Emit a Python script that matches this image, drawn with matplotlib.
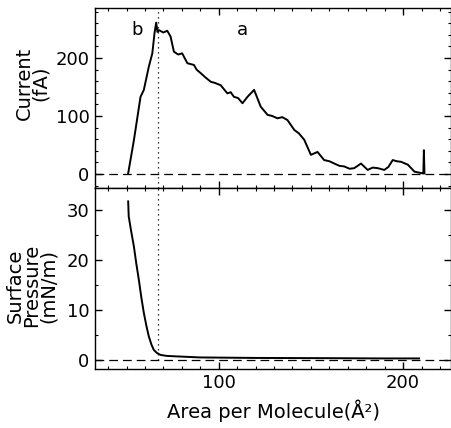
"""Current and surface pressure isotherm vs area per molecule."""

import matplotlib

matplotlib.use("Agg")
import matplotlib.pyplot as plt
from matplotlib.ticker import MultipleLocator

plt.rcParams["font.family"] = ["DejaVu Sans"]

# Current trace (top panel)
current_area = [50.9, 54.0, 57.6, 59.4, 62.1, 64.0, 65.2, 66.1, 66.8, 67.6, 70.0, 72.1,
                73.9, 75.7, 78.0, 80.2, 83.0, 86.6, 88.0, 90.2, 93.0, 95.7, 98.0, 101.1,
                104.7, 106.5, 108.3, 110.5, 112.9, 115.6, 119.2, 122.8, 126.5, 129.0,
                131.9, 134.5, 137.3, 141.0, 143.5, 146.4, 150.0, 153.6, 157.2, 160.0,
                162.7, 165.5, 168.1, 171.0, 173.5, 177.2, 180.8, 183.5, 186.3, 189.8,
                192.0, 194.4, 196.5, 198.9, 202.6, 206.2, 210.7, 211.0, 211.3, 211.6]
current_fa = [1, 58, 133, 145, 185, 208, 243, 261, 245, 248, 244, 247,
              237, 211, 206, 208, 191, 188, 180, 174, 166, 159, 157, 153,
              139, 141, 133, 131, 122, 133, 145, 116, 102, 100,
              96, 98, 93, 76, 70, 59, 33, 38, 24, 22,
              18, 14, 13, 9, 10, 18, 7, 11, 10, 7,
              12, 24, 22, 21, 16, 4, 1, 1, 41, 1]

# Surface pressure isotherm (bottom panel)
pressure_area = [50.9, 51.2, 52.5, 54.0, 55.3, 56.7, 58.0, 59.4, 60.8, 62.1, 63.5,
                 64.8, 66.5, 68.5, 72.0, 77.6, 90.0, 120.0, 160.0, 190.0, 208.7]
pressure_mn = [31.7, 28.7, 25.8, 22.7, 19.3, 16.0, 12.6, 9.4, 6.8, 4.7, 3.1,
               2.0, 1.4, 1.0, 0.8, 0.7, 0.5, 0.4, 0.35, 0.3, 0.3]

peak_area = 67  # dotted marker through both panels
panel_labels = [("b", 56), ("a", 113)]

FS = 13

fig = plt.figure(figsize=(4.51, 4.28), dpi=100)
ax_top = fig.add_axes([0.211, 0.561, 0.789, 0.420])
ax_bot = fig.add_axes([0.211, 0.138, 0.789, 0.423], sharex=ax_top)

ax_top.plot(current_area, current_fa, color="black", linewidth=1.4)
ax_top.axhline(0, color="black", linestyle=(0, (7, 4)), linewidth=0.9)
ax_top.axvline(peak_area, color="black", linestyle=(0, (1, 3)), linewidth=0.9)
for text, xpos in panel_labels:
    ax_top.text(xpos, 248, text, fontsize=FS, ha="center", va="center")
ax_top.set_ylim(-24, 286)
ax_top.set_ylabel("Current\n(fA)", fontsize=FS + 1, linespacing=0.85)
ax_top.yaxis.set_label_coords(-0.126, 0.58)
ax_top.yaxis.set_major_locator(MultipleLocator(100))
ax_top.yaxis.set_minor_locator(MultipleLocator(20))
ax_top.tick_params(labelbottom=False)

ax_bot.plot(pressure_area, pressure_mn, color="black", linewidth=1.4)
ax_bot.axhline(0, color="black", linestyle=(0, (7, 4)), linewidth=0.9)
ax_bot.plot([peak_area, peak_area], [0, 34.4], color="black",
            linestyle=(0, (1, 3)), linewidth=0.9)
ax_bot.set_ylim(-1.8, 34.4)
ax_bot.set_ylabel("Surface\nPressure\n(mN/m)", fontsize=FS + 1, linespacing=0.85)
ax_bot.yaxis.set_label_coords(-0.104, 0.46)
ax_bot.set_xlabel("Area per Molecule(Å²)", fontsize=FS + 1, labelpad=5)
ax_bot.yaxis.set_major_locator(MultipleLocator(10))
ax_bot.yaxis.set_minor_locator(MultipleLocator(5))

ax_top.set_xlim(33, 226)
ax_top.xaxis.set_major_locator(MultipleLocator(100))
ax_top.xaxis.set_minor_locator(MultipleLocator(10))

for ax in (ax_top, ax_bot):
    ax.tick_params(which="both", direction="in", top=True, right=True, labelsize=FS)
    ax.tick_params(which="major", length=5, width=1, pad=4)
    ax.tick_params(which="minor", length=2.5, width=0.8)
    for spine in ax.spines.values():
        spine.set_linewidth(1.0)

fig.savefig("out.png", dpi=100)
plt.close(fig)
